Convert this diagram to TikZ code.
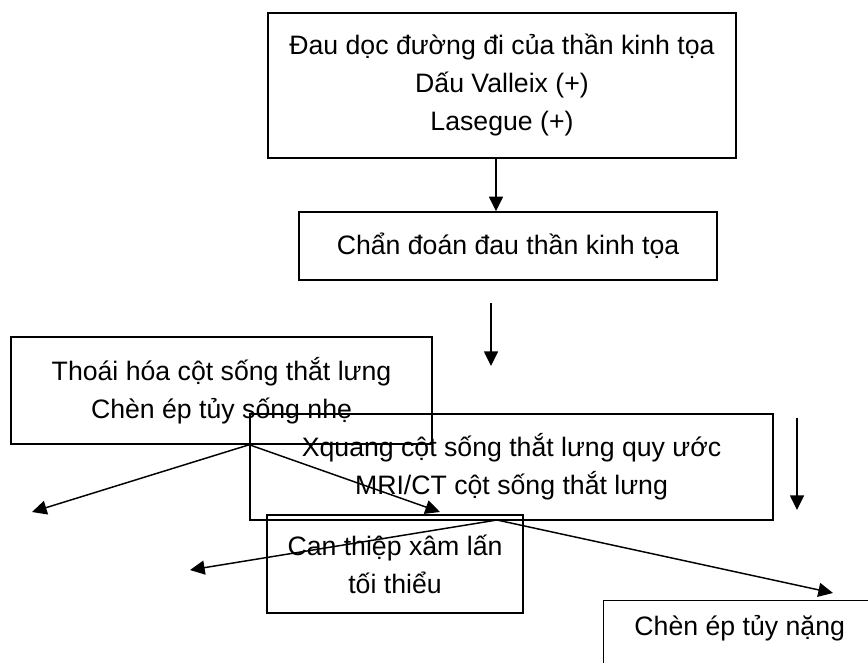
\documentclass[tikz,border=0pt]{standalone}
\usepackage{fontspec}
\setmainfont{Liberation Sans}
\usetikzlibrary{arrows.meta}
\tikzset{
    box/.style={
        draw,
        line width=1.1pt,
        inner sep=0pt,
        align=center,
        font=\fontsize{20}{28.5}\selectfont},
    every edge/.style={
        draw,
        -{Triangle[width=10.5pt,length=11pt]},
        line width=1.1pt}}

\begin{document}
\begin{tikzpicture}[x=0.75pt,y=-0.75pt]
        \useasboundingbox (0,0) rectangle (868,662);
        \clip (0,0) rectangle (868,662);

        \node[box,minimum width=351pt,minimum height=108.75pt] (top) at (502,85.5)
            {Đau dọc đường đi của thần kinh tọa\\Dấu Valleix (+)\\Lasegue (+)};
        \node[box,minimum width=313.5pt,minimum height=51pt] (diag) at (508,246)
            {Chẩn đoán đau thần kinh tọa};
        \node[box,minimum width=315.75pt,minimum height=80.25pt] (degen) at (221.5,390.5)
            {Thoái hóa cột sống thắt lưng\\Chèn ép tủy sống nhẹ};
        \node[box,minimum width=392.25pt,minimum height=79.5pt] (imaging) at (511.5,467)
            {Xquang cột sống thắt lưng quy ước\\MRI/CT cột sống thắt lưng};
        \node[box,minimum width=192pt,minimum height=73.5pt] (minimal) at (395,564)
            {Can thiệp xâm lấn\\tối thiểu};
        \node[box,anchor=north west,minimum width=204pt,text height=26.25pt,text depth=33.75pt] (severe) at (603,600)
            {Chèn ép tủy nặng};

        \coordinate (a1) at (491,303);
        \coordinate (a2) at (491,366);
        \coordinate (b1) at (797,418);
        \coordinate (b2) at (797,510);
        \coordinate (fork1) at (degen.south -| imaging.west);
        \coordinate (fork2) at (497,520);
        \coordinate (l1) at (32,512);
        \coordinate (r1) at (440,512);
        \coordinate (l2) at (190,570);
        \coordinate (r2) at (833,593);

        \draw ([xshift=-4.5pt]top.south) edge ([xshift=-4.5pt]top.south |- diag.north);
        \draw (a1) edge (a2);
        \draw (b1) edge (b2);

        \draw (fork1) edge (l1);
        \draw (fork1) edge (r1);
        \draw (fork2) edge (l2);
        \draw (fork2) edge (r2);
    \end{tikzpicture}
\end{document}
